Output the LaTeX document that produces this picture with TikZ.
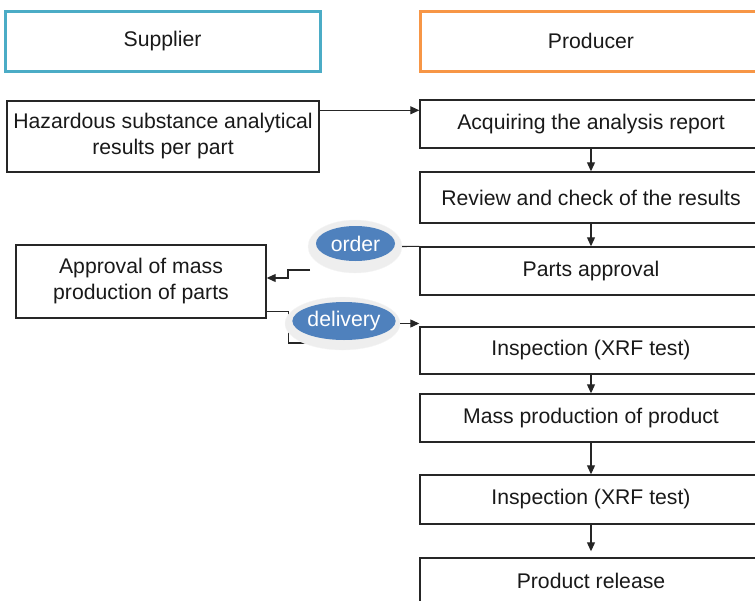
\documentclass[tikz,border=0pt]{standalone}
\usepackage{fontspec}
\setmainfont{Liberation Sans}
\usetikzlibrary{arrows.meta,calc,shapes.geometric}
\definecolor{supblue}{HTML}{4BACC6}
\definecolor{prodorange}{HTML}{F79646}
\definecolor{ellblue}{HTML}{4F81BD}
\definecolor{linegray}{HTML}{262626}
\definecolor{glow}{HTML}{EEEEEE}
\begin{document}
\begin{tikzpicture}[x=1pt,y=-1pt,
  every node/.style={font=\fontsize{21.2}{26}\selectfont, inner sep=0pt, align=center, text=black!90},
  flowbox/.style={draw=linegray, line width=1.4pt, rectangle},
  headbox/.style={rectangle, line width=3pt},
  arr/.style={draw=linegray, line width=1.1pt, -{Triangle[length=9pt,width=8pt]}},
  conn/.style={draw=linegray, line width=1.1pt},
  glowell/.style={ellipse, fill=glow, draw=gray!8},
  blueell/.style={ellipse, fill=ellblue, text=white}]
\useasboundingbox (0,0) rectangle (755,600);

% headers
\node[headbox, draw=supblue, minimum width=315pt, minimum height=60pt] (sup) at (162.5,41) {Supplier};
\node[headbox, draw=prodorange, minimum width=342pt, minimum height=60pt] (prod) at (591,41) {\raisebox{-3pt}{Producer}};

% supplier side
\node[flowbox, minimum width=312pt, minimum height=71pt] (haz) at (163,136.5) {Hazardous substance analytical\\results per part};
\node[flowbox, minimum width=250pt, minimum height=73pt] (appr) at (141,281.5) {Approval of mass\\production of parts};

% producer side
\node[flowbox, minimum width=342pt, minimum height=48pt] (acq) at (591,124) {Acquiring the analysis report};
\node[flowbox, minimum width=342pt, minimum height=51pt] (rev) at (591,197.5) {Review and check of the results};
\node[flowbox, minimum width=342pt, minimum height=48pt] (parts) at (591,271) {Parts approval};
\node[flowbox, minimum width=342pt, minimum height=47pt] (insp1) at (591,350.5) {Inspection (XRF test)};
\node[flowbox, minimum width=342pt, minimum height=48pt] (mass) at (591,418) {Mass production of product};
\node[flowbox, minimum width=342pt, minimum height=49pt] (insp2) at (591,499.5) {Inspection (XRF test)};
\node[flowbox, minimum width=342pt, minimum height=45pt] (rel) at (591,580.5) {Product release};

% connectors under the ellipses
\coordinate (oin) at (310,270);
\coordinate (din) at (312,343);
\draw[arr] (oin) -- ++(-22,0) |- ([yshift=3.5pt]appr.east);
\draw[conn] ([yshift=7pt]appr.south east) -- ++(22,0) |- (din);

% ellipses
\node[glowell, minimum width=94pt, minimum height=53pt] (og) at (355,246.5) {};
\node[blueell, minimum width=79pt, minimum height=35pt] (order) at (355.5,243.5) {order};
\node[glowell, minimum width=115pt, minimum height=53pt] (dg) at (342.5,323.5) {};
\node[blueell, minimum width=102pt, minimum height=38pt] (delivery) at (344,321) {delivery};

% remaining connectors
\draw[arr] ([yshift=-10pt]haz.north east) -- ([yshift=-10pt]haz.north east -| acq.west);
\draw[arr] (acq.south) -- (rev.north);
\draw[arr] (rev.south) -- (parts.north);
\draw[conn] (og.east) -- (parts.north west);
\draw[arr] (dg.east) -- (dg.east -| insp1.west);
\draw[arr] (insp1.south) -- (mass.north);
\draw[arr] (mass.south) -- (insp2.north);
\draw[arr] (insp2.south) -- ([yshift=6pt]rel.north);
\end{tikzpicture}
\end{document}
